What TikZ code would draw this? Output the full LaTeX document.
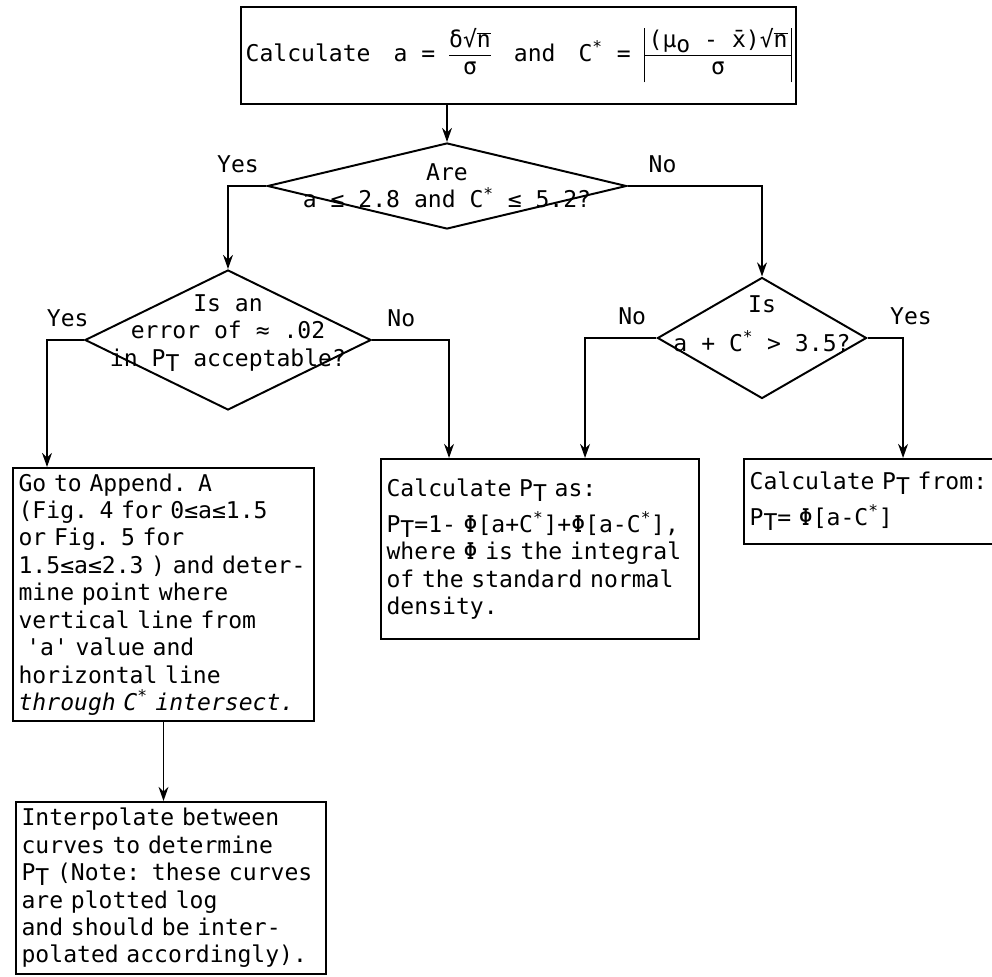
\documentclass[tikz,border=0pt]{standalone}
\usepackage{fontspec}
\setmainfont{DejaVu Sans Mono}
\usetikzlibrary{shapes.geometric,arrows.meta}

\newcommand{\lowr}[1]{\raisebox{-0.4ex}{#1}}
\newcommand{\PT}{P\lowr{T}}
\newcommand{\Cs}{C\textsuperscript{*}}
\newcommand{\rtn}{√\ensuremath{\overline{\mbox{n}}}}
\newcommand{\fracx}[2]{\begin{tabular}{@{}c@{}}#1\\[-1pt]\hline #2\end{tabular}}
\newcommand{\absfrac}[2]{\begin{tabular}{|@{\,}c@{\,}|}#1\\[-1pt]\hline #2\end{tabular}}

\begin{document}
\begin{tikzpicture}[x=0.025cm, y=-0.025cm, line width=1.4pt,
        every node/.style={font=\fontsize{16.4pt}{19.5pt}\selectfont},
        box/.style={draw, rectangle, anchor=north west, align=left, inner sep=4pt},
        ask/.style={draw, diamond, inner sep=0pt},
        arr/.style={-{Stealth[length=10pt, width=7pt]}}]
        \useasboundingbox (0,0) rectangle (992,977);
        \node[draw, minimum width=13.025cm, minimum height=2.425cm] (calc) at (518.5,55.5)
            {Calculate\quad a = \fracx{δ\rtn}{σ}\quad and\quad \Cs{} = \absfrac{(μ\lowr{o} - \={x})\rtn}{σ}};
        \node[ask, minimum width=8.975cm, minimum height=2.15cm,
            label={[align=center]center:{Are\\a ≤ 2.8 and \Cs{} ≤ 5.2?}}] (q1) at (447,186) {};
        \node[ask, minimum width=7.15cm, minimum height=3.5cm,
            label={[align=center, yshift=0.18cm]center:{Is an\\error of ≈ .02\\in \PT{} acceptable?}}] (q2) at (228,340) {};
        \node[ask, minimum width=5.225cm, minimum height=3.025cm,
            label={[align=center, yshift=0.35cm]center:{Is\\[8pt]a + \Cs{} > 3.5?}}] (q3) at (762,338) {};
        \node[box, text width=7.243cm, minimum height=6.25cm] (app) at (12,467)
            {Go to Append. A\\(Fig. 4 for 0≤a≤1.5\\or Fig. 5 for\\1.5≤a≤2.3 ) and deter-\\mine point where\\vertical line from\\
            \ \textquotesingle a\textquotesingle{} value and\\horizontal line\\\textit{through \Cs{} intersect.}};
        \node[box, text width=7.668cm, minimum height=4.5cm] (phi) at (380,458)
            {Calculate \PT{} as:\\[6pt]\PT=1- Φ[a+\Cs]+Φ[a-\Cs],\\where Φ is the integral\\of the standard normal\\density.};
        \node[box, text width=6.268cm, minimum height=2.125cm] (frm) at (743,458)
            {Calculate \PT{} from:\\[6pt]\PT= Φ[a-\Cs]};
        \node[box, text width=7.468cm, minimum height=4.3cm] (itp) at (15,801)
            {Interpolate between\\curves to determine\\\PT{} (Note: these curves\\are plotted log\\and should be inter-\\polated accordingly).};
        \draw[arr] (q1.north |- calc.south) -- (q1.north);
        \draw[arr] (q1.west) -| node[pos=0.37, above=5pt] {Yes} (q2.north);
        \draw[arr] (q1.east) -| node[pos=0.13, above=5pt] {No} (q3.north);
        \draw[arr] (q2.west) -| node[pos=0.22, above=5pt] {Yes} ([xshift=0.875cm]app.north west);
        \draw[arr] (q2.east) -| node[pos=0.19, above=5pt] {No} ([xshift=1.725cm]phi.north west);
        \draw[arr] (q3.west) -| node[pos=0.17, above=5pt] {No} ([xshift=5.125cm]phi.north west);
        \draw[arr] (q3.east) -| node[pos=0.5, above=5pt, xshift=0.2cm] {Yes} ([xshift=4cm]frm.north west);
        \draw[arr] (app.south) -- (app.south |- itp.north);
\end{tikzpicture}
\end{document}
